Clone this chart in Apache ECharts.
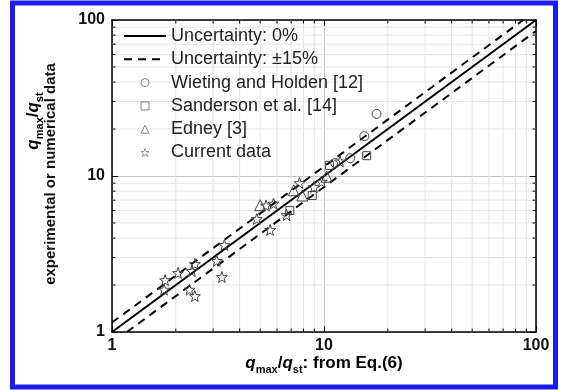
<!DOCTYPE html>
<html>
<head>
<meta charset="utf-8">
<script src="https://cdn.jsdelivr.net/npm/echarts@6/dist/echarts.min.js"></script>
<style>
html,body{margin:0;padding:0;background:#fff;}
#chart{width:561px;height:390px;}
</style>
</head>
<body>
<div id="chart"></div>
<script>
// ---- data ----
const xTicks = [1, 10, 100];
const yTicks = [1, 10, 100];
const minorTicks = [2, 3, 4, 5, 6, 7, 8, 9, 20, 30, 40, 50, 60, 70, 80, 90];
const lineZero = [[1, 1], [100, 100]];
const lineUpper = [[1, 1.15], [86.96, 100]];
const lineLower = [[1.176, 1], [100, 85]];
const wieting = [[17.7, 25.0], [15.5, 18.0], [11.3, 12.1], [13.3, 13.0]];
const sanderson = [[15.9, 13.5], [10.6, 11.7], [8.8, 7.5], [6.9, 6.0]];
const edney = [[5.0, 6.5], [7.2, 8.1], [7.9, 7.5], [10.3, 9.9]];
const current = [[1.78, 2.15], [1.76, 1.87], [2.05, 2.39], [2.38, 2.46], [2.46, 2.73],
  [2.32, 1.87], [2.46, 1.70], [3.12, 2.86], [3.30, 2.25], [3.39, 3.61], [4.82, 5.30],
  [5.57, 4.51], [5.33, 6.47], [5.78, 6.66], [6.66, 5.62], [7.66, 9.02], [9.75, 9.19],
  [8.97, 8.50], [11.9, 12.4]];
const names = ['Uncertainty: 0%', 'Uncertainty: \u00b115%', 'Wieting and Holden [12]',
  'Sanderson et al. [14]', 'Edney [3]', 'Current data'];

const FONT = "'Liberation Sans', Arial, sans-serif";
const STAR = 'path://M0,-10L2.35,-3.24L9.51,-3.09L3.8,1.24L5.88,8.09L0,4L-5.88,8.09L-3.8,1.24L-9.51,-3.09L-2.35,-3.24Z';
const MARK = '#444';

function markerSeries(name, data, symbol, size) {
  return {
    type: 'line', name: name, data: data, symbol: symbol, symbolSize: size,
    showSymbol: true, showAllSymbol: true,
    lineStyle: { color: 'rgba(0,0,0,0)', width: 0 },
    itemStyle: { color: 'rgba(255,255,255,0)', borderColor: MARK, borderWidth: 1 },
    emphasis: { disabled: true }, z: 5
  };
}

const chart = echarts.init(document.getElementById('chart'), null, { renderer: 'canvas' });

const rich = {
  q: { fontFamily: FONT, fontSize: 17, fontWeight: 'bold', fontStyle: 'italic', color: '#111', lineHeight: 24 },
  t: { fontFamily: FONT, fontSize: 17, fontWeight: 'bold', color: '#111', lineHeight: 24 },
  s: { fontFamily: FONT, fontSize: 11, fontWeight: 'bold', color: '#111', lineHeight: 11, verticalAlign: 'bottom' }
};

const logAxisBase = {
  type: 'log', logBase: 10, min: 1, max: 100,
  axisLine: { show: true, lineStyle: { color: '#000', width: 1.5 } },
  axisTick: { show: true, inside: true, length: 6, lineStyle: { color: '#000', width: 1 } }
};

const legendMark = { borderWidth: 0.8, borderColor: '#666' };

chart.setOption({
  animation: false,
  backgroundColor: '#fff',
  grid: { left: 112, right: 25, top: 20, bottom: 58 },
  xAxis: [
    Object.assign({}, logAxisBase, {
      position: 'bottom',
      axisLabel: { fontFamily: FONT, fontSize: 16, fontWeight: 'bold', color: '#111', margin: 6 },
      splitLine: { show: true, lineStyle: { color: '#c4c4c4', width: 1 } }
    }),
    Object.assign({}, logAxisBase, { position: 'top', axisLabel: { show: false }, splitLine: { show: false } })
  ],
  yAxis: [
    Object.assign({}, logAxisBase, {
      position: 'left',
      axisLabel: { fontFamily: FONT, fontSize: 16, fontWeight: 'bold', color: '#111', margin: 7 },
      splitLine: { show: true, lineStyle: { color: '#c4c4c4', width: 1 } }
    }),
    Object.assign({}, logAxisBase, { position: 'right', axisLabel: { show: false }, splitLine: { show: false } })
  ],
  legend: {
    data: [
      { name: names[0], itemStyle: { opacity: 0 } },
      { name: names[1], itemStyle: { opacity: 0 } },
      { name: names[2], itemStyle: legendMark },
      { name: names[3], itemStyle: legendMark },
      { name: names[4], itemStyle: legendMark },
      { name: names[5], itemStyle: { borderWidth: 0.7, borderColor: '#666' } }
    ],
    orient: 'vertical', left: 118, top: 22,
    itemWidth: 42, itemHeight: 10, itemGap: 5.3,
    selectedMode: false,
    textStyle: { fontFamily: FONT, fontSize: 18, color: '#222' }
  },
  graphic: [
    { type: 'rect', shape: { x: 12.5, y: 3, width: 543, height: 384 }, silent: true,
      style: { fill: 'none', stroke: '#1c1cf0', lineWidth: 5 } },
    { type: 'text', x: 324, y: 363, silent: true,
      style: { text: '{q|q}{s|max}{t|/}{q|q}{s|st}{t|: from Eq.(6)}', rich: rich,
        textAlign: 'center', textVerticalAlign: 'middle' } },
    { type: 'text', x: 33, y: 121, rotation: Math.PI / 2, silent: true,
      style: { text: '{q|q}{s|max}{t|/}{q|q}{s|st}', rich: rich,
        textAlign: 'center', textVerticalAlign: 'middle' } },
    { type: 'text', x: 51, y: 174, rotation: Math.PI / 2, silent: true,
      style: { text: 'experimental or numerical data', fontFamily: FONT, fontSize: 15, fontWeight: 'bold',
        fill: '#111', textAlign: 'center', textVerticalAlign: 'middle' } }
  ],
  series: [
    {
      type: 'custom', name: 'xminor', data: minorTicks.map(v => [v, 10]), encode: { x: 0, y: 1 },
      silent: true, z: 1, clip: false,
      renderItem: function (params, api) {
        const v = api.value(0);
        const b = api.coord([v, 1]);
        const t = api.coord([v, 100]);
        return { type: 'group', children: [
          { type: 'line', shape: { x1: b[0], y1: b[1], x2: t[0], y2: t[1] }, style: { stroke: '#e4e4e4', lineWidth: 1 } },
          { type: 'line', shape: { x1: b[0], y1: b[1], x2: b[0], y2: b[1] - 3.5 }, style: { stroke: '#000', lineWidth: 1 } },
          { type: 'line', shape: { x1: t[0], y1: t[1], x2: t[0], y2: t[1] + 3.5 }, style: { stroke: '#000', lineWidth: 1 } }
        ] };
      }
    },
    {
      type: 'custom', name: 'yminor', data: minorTicks.map(v => [10, v]), encode: { x: 0, y: 1 },
      silent: true, z: 1, clip: false,
      renderItem: function (params, api) {
        const v = api.value(1);
        const l = api.coord([1, v]);
        const r = api.coord([100, v]);
        return { type: 'group', children: [
          { type: 'line', shape: { x1: l[0], y1: l[1], x2: r[0], y2: r[1] }, style: { stroke: '#e4e4e4', lineWidth: 1 } },
          { type: 'line', shape: { x1: l[0], y1: l[1], x2: l[0] + 3.5, y2: l[1] }, style: { stroke: '#000', lineWidth: 1 } },
          { type: 'line', shape: { x1: r[0], y1: r[1], x2: r[0] - 3.5, y2: r[1] }, style: { stroke: '#000', lineWidth: 1 } }
        ] };
      }
    },
    { type: 'line', name: names[0], data: lineZero, symbol: 'none', z: 3,
      lineStyle: { color: '#000', width: 2 }, itemStyle: { color: '#000' }, emphasis: { disabled: true } },
    { type: 'line', name: names[1], data: lineUpper, symbol: 'none', z: 3,
      lineStyle: { color: '#000', width: 2, type: [8, 6] }, itemStyle: { color: '#000' }, emphasis: { disabled: true } },
    { type: 'line', name: names[1], data: lineLower, symbol: 'none', z: 3,
      lineStyle: { color: '#000', width: 2, type: [8, 6] }, itemStyle: { color: '#000' }, emphasis: { disabled: true } },
    markerSeries(names[2], wieting, 'circle', 9),
    markerSeries(names[3], sanderson, 'rect', 8),
    markerSeries(names[4], edney, 'triangle', 11),
    markerSeries(names[5], current, STAR, 11)
  ]
});
</script>
</body>
</html>
